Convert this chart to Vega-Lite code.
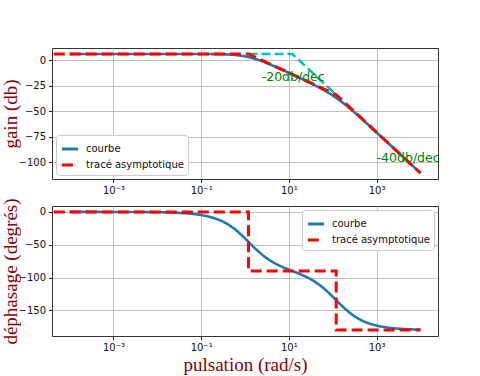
{
  "$schema": "https://vega.github.io/schema/vega-lite/v6.json",
  "background": "white",
  "padding": {"left": 0, "top": 47, "right": 5, "bottom": 4},
  "spacing": 27,
  "bounds": "flush",
  "config": {
    "view": {"stroke": "#333", "strokeWidth": 1},
    "axis": {
      "domain": false,
      "grid": true,
      "gridColor": "#b0b0b0",
      "gridWidth": 0.8,
      "tickColor": "#222",
      "tickSize": 3.5,
      "labelFont": "DejaVu Sans",
      "labelFontSize": 10,
      "labelColor": "#111",
      "labelPadding": 3,
      "labelOverlap": false,
      "titleFont": "Liberation Serif",
      "titleFontSize": 19,
      "titleFontWeight": "normal",
      "titleColor": "#8B0000"
    },
    "legend": {
      "labelFont": "DejaVu Sans",
      "labelFontSize": 10,
      "labelColor": "#111",
      "labelOffset": 6,
      "symbolType": "stroke",
      "symbolSize": 260,
      "symbolStrokeWidth": 3,
      "fillColor": "white",
      "strokeColor": "#cccccc",
      "cornerRadius": 3,
      "padding": 4,
      "rowPadding": 0,
      "title": null
    }
  },
  "datasets": {
    "gainCurve": [
      {"i": 0, "w": 0.0001, "v": 6.02, "s": "courbe"},
      {"i": 1, "w": 0.000316, "v": 6.02, "s": "courbe"},
      {"i": 2, "w": 0.001, "v": 6.02, "s": "courbe"},
      {"i": 3, "w": 0.00316, "v": 6.02, "s": "courbe"},
      {"i": 4, "w": 0.01, "v": 6.02, "s": "courbe"},
      {"i": 5, "w": 0.0316, "v": 6.02, "s": "courbe"},
      {"i": 6, "w": 0.1, "v": 5.99, "s": "courbe"},
      {"i": 7, "w": 0.178, "v": 5.93, "s": "courbe"},
      {"i": 8, "w": 0.316, "v": 5.73, "s": "courbe"},
      {"i": 9, "w": 0.562, "v": 5.16, "s": "courbe"},
      {"i": 10, "w": 1, "v": 3.73, "s": "courbe"},
      {"i": 11, "w": 1.778, "v": 0.97, "s": "courbe"},
      {"i": 12, "w": 3.162, "v": -2.99, "s": "courbe"},
      {"i": 13, "w": 5.623, "v": -7.6, "s": "courbe"},
      {"i": 14, "w": 10, "v": -12.49, "s": "courbe"},
      {"i": 15, "w": 17.78, "v": -17.51, "s": "courbe"},
      {"i": 16, "w": 31.62, "v": -22.69, "s": "courbe"},
      {"i": 17, "w": 56.23, "v": -28.26, "s": "courbe"},
      {"i": 18, "w": 100, "v": -34.69, "s": "courbe"},
      {"i": 19, "w": 177.8, "v": -42.44, "s": "courbe"},
      {"i": 20, "w": 316.2, "v": -51.4, "s": "courbe"},
      {"i": 21, "w": 562.3, "v": -61.01, "s": "courbe"},
      {"i": 22, "w": 1000, "v": -70.88, "s": "courbe"},
      {"i": 23, "w": 1778, "v": -80.84, "s": "courbe"},
      {"i": 24, "w": 3162, "v": -90.82, "s": "courbe"},
      {"i": 25, "w": 5623, "v": -100.82, "s": "courbe"},
      {"i": 26, "w": 10000, "v": -110.82, "s": "courbe"}
    ],
    "gainAsym": [
      {"i": 0, "w": 0.0000437, "v": 6.02, "s": "tracé asymptotique"},
      {"i": 1, "w": 1.2, "v": 6.02, "s": "tracé asymptotique"},
      {"i": 2, "w": 120, "v": -33.98, "s": "tracé asymptotique"},
      {"i": 3, "w": 10000, "v": -110.82, "s": "tracé asymptotique"}
    ],
    "phaseCurve": [
      {"i": 0, "w": 0.0001, "v": -0.005, "s": "courbe"},
      {"i": 1, "w": 0.000316, "v": -0.015, "s": "courbe"},
      {"i": 2, "w": 0.001, "v": -0.048, "s": "courbe"},
      {"i": 3, "w": 0.00316, "v": -0.151, "s": "courbe"},
      {"i": 4, "w": 0.01, "v": -0.48, "s": "courbe"},
      {"i": 5, "w": 0.0316, "v": -1.51, "s": "courbe"},
      {"i": 6, "w": 0.1, "v": -4.81, "s": "courbe"},
      {"i": 7, "w": 0.178, "v": -8.52, "s": "courbe"},
      {"i": 8, "w": 0.316, "v": -14.91, "s": "courbe"},
      {"i": 9, "w": 0.562, "v": -25.38, "s": "courbe"},
      {"i": 10, "w": 1, "v": -40.29, "s": "courbe"},
      {"i": 11, "w": 1.778, "v": -56.84, "s": "courbe"},
      {"i": 12, "w": 3.162, "v": -70.73, "s": "courbe"},
      {"i": 13, "w": 5.623, "v": -80.63, "s": "courbe"},
      {"i": 14, "w": 10, "v": -87.92, "s": "courbe"},
      {"i": 15, "w": 17.78, "v": -94.57, "s": "courbe"},
      {"i": 16, "w": 31.62, "v": -102.59, "s": "courbe"},
      {"i": 17, "w": 56.23, "v": -113.89, "s": "courbe"},
      {"i": 18, "w": 100, "v": -129.12, "s": "courbe"},
      {"i": 19, "w": 177.8, "v": -145.6, "s": "courbe"},
      {"i": 20, "w": 316.2, "v": -159.0, "s": "courbe"},
      {"i": 21, "w": 562.3, "v": -167.83, "s": "courbe"},
      {"i": 22, "w": 1000, "v": -173.09, "s": "courbe"},
      {"i": 23, "w": 1778, "v": -176.1, "s": "courbe"},
      {"i": 24, "w": 3162, "v": -177.81, "s": "courbe"},
      {"i": 25, "w": 5623, "v": -178.77, "s": "courbe"},
      {"i": 26, "w": 10000, "v": -179.3, "s": "courbe"}
    ],
    "phaseAsym": [
      {"i": 0, "w": 0.0000437, "v": 0, "s": "tracé asymptotique"},
      {"i": 1, "w": 1.2, "v": 0, "s": "tracé asymptotique"},
      {"i": 2, "w": 1.2, "v": -90, "s": "tracé asymptotique"},
      {"i": 3, "w": 120, "v": -90, "s": "tracé asymptotique"},
      {"i": 4, "w": 120, "v": -180, "s": "tracé asymptotique"},
      {"i": 5, "w": 10000, "v": -180, "s": "tracé asymptotique"}
    ],
    "cyan": [
      {"i": 0, "w": 1.2, "v": 6.02},
      {"i": 1, "w": 12, "v": 6.02},
      {"i": 2, "w": 120, "v": -33.98}
    ],
    "notes": [
      {"w": 2.4, "v": -20, "t": "-20db/dec"},
      {"w": 1000, "v": -100, "t": "-40db/dec"}
    ]
  },
  "vconcat": [
    {
      "width": 386,
      "height": 131,
      "encoding": {
        "x": {"field": "w", "type": "quantitative", "scale": {"type": "log", "domain": [0.0000398, 25119], "nice": false},
              "axis": {"values": [0.001, 0.1, 10, 1000], "title": null,
                       "labelExpr": "datum.value < 0.01 ? '10⁻³' : datum.value < 1 ? '10⁻¹' : datum.value < 100 ? '10¹' : '10³'"}},
        "y": {"field": "v", "type": "quantitative", "scale": {"domain": [-116.6, 11.9], "nice": false, "zero": false},
              "axis": {"values": [0, -25, -50, -75, -100], "title": "gain (db)", "titleX": -42, "titleBaseline": "middle"}}
      },
      "layer": [
        {
          "data": {"name": "cyan"},
          "mark": {"type": "line", "color": "#00BFBF", "strokeWidth": 2.5, "strokeDash": [9, 4], "clip": true},
          "encoding": {"order": {"field": "i"}}
        },
        {
          "data": {"name": "gainCurve"},
          "mark": {"type": "line", "interpolate": "monotone", "clip": true, "strokeWidth": 2.6},
          "encoding": {
            "order": {"field": "i"},
            "color": {"field": "s", "type": "nominal",
                      "scale": {"domain": ["courbe", "tracé asymptotique"], "range": ["#1f77b4", "#ff0000"]},
                      "legend": {"orient": "bottom-left", "offset": 4}},
            "strokeDash": {"field": "s", "type": "nominal",
                           "scale": {"domain": ["courbe", "tracé asymptotique"], "range": [[1, 0], [11, 5]]}}
          }
        },
        {
          "data": {"name": "gainAsym"},
          "mark": {"type": "line", "clip": true, "strokeWidth": 3},
          "encoding": {
            "order": {"field": "i"},
            "color": {"field": "s", "type": "nominal"},
            "strokeDash": {"field": "s", "type": "nominal"}
          }
        },
        {
          "data": {"name": "notes"},
          "mark": {"type": "text", "align": "left", "baseline": "alphabetic", "color": "#008000", "font": "DejaVu Sans", "fontSize": 12.5, "clip": false},
          "encoding": {"text": {"field": "t"}}
        }
      ]
    },
    {
      "width": 386,
      "height": 130,
      "encoding": {
        "x": {"field": "w", "type": "quantitative", "scale": {"type": "log", "domain": [0.0000398, 25119], "nice": false},
              "axis": {"values": [0.001, 0.1, 10, 1000], "title": "pulsation (rad/s)", "titlePadding": 3,
                       "labelExpr": "datum.value < 0.01 ? '10⁻³' : datum.value < 1 ? '10⁻¹' : datum.value < 100 ? '10¹' : '10³'"}},
        "y": {"field": "v", "type": "quantitative", "scale": {"domain": [-189, 9], "nice": false, "zero": false},
              "axis": {"values": [0, -50, -100, -150], "title": "déphasage (degrés)", "titleX": -42, "titleBaseline": "middle"}}
      },
      "layer": [
        {
          "data": {"name": "phaseCurve"},
          "mark": {"type": "line", "interpolate": "monotone", "clip": true, "strokeWidth": 2.6},
          "encoding": {
            "order": {"field": "i"},
            "color": {"field": "s", "type": "nominal",
                      "scale": {"domain": ["courbe", "tracé asymptotique"], "range": ["#1f77b4", "#ff0000"]},
                      "legend": {"orient": "top-right", "offset": 4}},
            "strokeDash": {"field": "s", "type": "nominal",
                           "scale": {"domain": ["courbe", "tracé asymptotique"], "range": [[1, 0], [11, 5]]}}
          }
        },
        {
          "data": {"name": "phaseAsym"},
          "mark": {"type": "line", "clip": true, "strokeWidth": 3},
          "encoding": {
            "order": {"field": "i"},
            "color": {"field": "s", "type": "nominal"},
            "strokeDash": {"field": "s", "type": "nominal"}
          }
        }
      ]
    }
  ],
  "resolve": {"scale": {"color": "independent", "strokeDash": "independent", "y": "independent"}, "legend": {"color": "independent", "strokeDash": "independent"}}
}
